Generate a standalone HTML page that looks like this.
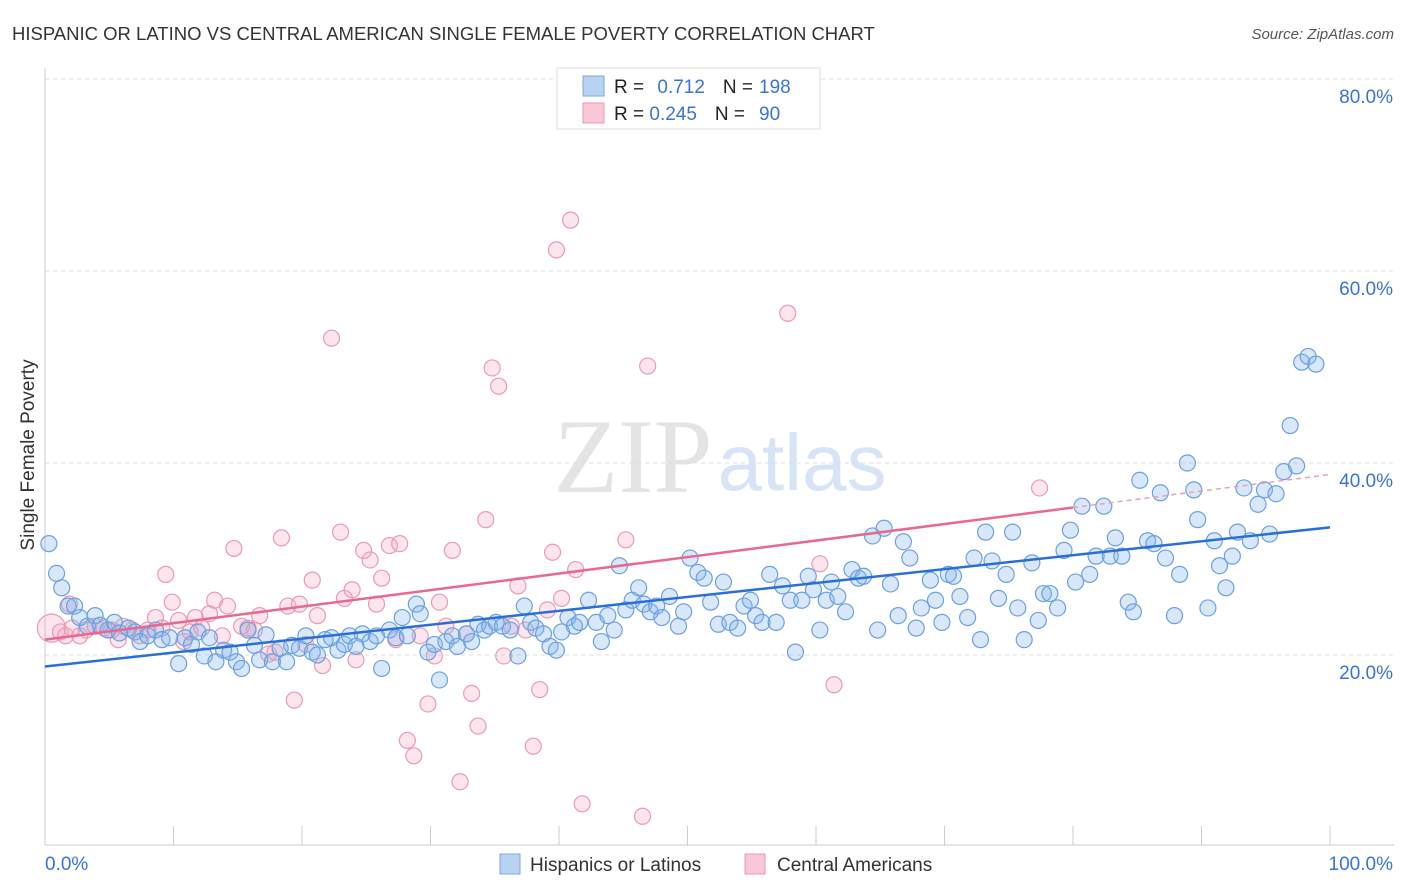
<!DOCTYPE html>
<html><head><meta charset="utf-8">
<style>
body{margin:0;background:#fff;font-family:"Liberation Sans",sans-serif;}
svg{display:block}
</style></head>
<body>
<svg id="chart" width="1406" height="892" xmlns="http://www.w3.org/2000/svg">
<text x="12" y="40" font-size="18.5" fill="#333">HISPANIC OR LATINO VS CENTRAL AMERICAN SINGLE FEMALE POVERTY CORRELATION CHART</text>
<text x="1394" y="39" font-size="15" fill="#555" font-style="italic" text-anchor="end">Source: ZipAtlas.com</text>
<text x="34" y="455" font-size="19" fill="#333" text-anchor="middle" transform="rotate(-90 34 455)">Single Female Poverty</text>
<g>
<text x="633" y="492" font-size="106" fill="#e4e4e4" font-family="Liberation Serif,serif" text-anchor="middle">ZIP</text>
<text x="802" y="490" font-size="80" fill="#d6e4f5" text-anchor="middle">atlas</text>
</g>
<g id="grid"></g>
<g id="axes"></g>
<g id="pinkpts"></g>
<g id="bluepts"></g>
<g id="lines"></g>
<g>
<rect x="557" y="68" width="263" height="61" fill="#fff" stroke="#ddd"/>
<rect x="583" y="76" width="21" height="20" fill="#b9d3f3" stroke="#7aa7e0"/>
<rect x="583" y="103" width="21" height="20" fill="#f9c7d6" stroke="#eb9ab4"/>
<text x="614" y="93" font-size="19" fill="#222">R = <tspan fill="#3a73d6" dx="8">0.712</tspan><tspan dx="18" fill="#222">N =</tspan><tspan dx="6" fill="#3a73d6">198</tspan></text>
<text x="614" y="120" font-size="19" fill="#222">R = <tspan fill="#3a73d6">0.245</tspan><tspan dx="18" fill="#222">N =</tspan><tspan dx="14" fill="#3a73d6">90</tspan></text>
</g>
<g>
<rect x="500" y="854" width="20" height="20" fill="#b9d3f3" stroke="#7aa7e0"/>
<text x="530" y="871" font-size="19" fill="#333">Hispanics or Latinos</text>
<rect x="745" y="854" width="20" height="20" fill="#f9c7d6" stroke="#eb9ab4"/>
<text x="777" y="871" font-size="19" fill="#333">Central Americans</text>
</g>
</svg>
<script>
const blueX=[0.3,0.9,1.3,1.8,2.3,2.7,3.3,3.9,4.3,4.9,5.4,5.8,6.5,7.0,7.4,8.0,8.6,9.1,9.7,10.4,10.9,11.4,11.9,12.4,12.8,13.3,13.9,14.4,14.9,15.3,15.8,16.3,16.7,17.2,17.7,18.3,18.8,19.2,19.8,20.3,20.8,21.2,21.8,22.3,22.8,23.3,23.7,24.2,24.7,25.3,25.8,26.2,26.8,27.3,27.8,28.2,28.9,29.2,29.8,30.3,30.7,31.2,31.7,32.1,32.8,33.2,33.7,34.2,34.6,35.1,35.6,36.2,36.8,37.3,37.8,38.2,38.8,39.3,39.8,40.2,40.7,41.2,41.6,42.3,42.9,43.3,43.8,44.3,44.7,45.2,45.7,46.2,46.6,47.1,47.6,48.0,48.6,49.3,49.7,50.2,50.8,51.3,51.8,52.4,52.8,53.3,53.9,54.4,54.9,55.3,55.8,56.4,56.9,57.4,58.0,58.4,58.9,59.4,59.8,60.3,60.8,61.2,61.7,62.3,62.8,63.3,63.7,64.4,64.8,65.3,65.8,66.4,66.8,67.3,67.8,68.2,68.9,69.3,69.8,70.3,70.7,71.2,71.8,72.3,72.8,73.2,73.7,74.2,74.8,75.3,75.7,76.2,76.8,77.3,77.7,78.2,78.8,79.3,79.8,80.2,80.7,81.3,81.8,82.4,82.9,83.3,83.8,84.3,84.7,85.2,85.8,86.3,86.8,87.2,87.9,88.3,88.9,89.4,89.7,90.5,91.0,91.4,91.9,92.4,92.8,93.3,93.8,94.4,94.9,95.3,95.8,96.4,96.9,97.4,97.8,98.3,98.9];
const blueY=[31.6,28.5,27.0,25.1,25.1,23.9,23.0,24.1,23.1,22.6,23.4,22.3,22.8,22.4,21.4,22.0,22.6,21.6,21.8,19.1,21.8,21.1,22.4,19.9,21.8,19.3,20.5,20.3,19.3,18.6,22.6,21.0,19.5,22.1,19.3,20.7,19.3,21.0,20.7,22.0,20.3,20.0,21.6,21.8,20.5,21.1,22.0,20.9,22.2,21.4,22.0,18.6,22.6,21.8,23.9,22.0,25.3,24.3,20.3,21.1,17.4,21.4,22.0,20.9,22.2,21.4,23.2,22.6,23.0,23.4,23.0,22.6,19.9,25.1,23.4,22.8,22.2,20.9,20.5,22.4,23.9,23.0,23.4,25.7,23.4,21.4,24.1,22.6,29.3,24.7,25.7,27.0,25.3,24.5,25.1,23.9,26.1,23.0,24.5,30.1,28.6,28.0,25.5,23.2,27.6,23.4,22.8,25.1,25.7,24.1,23.4,28.4,23.4,27.2,25.7,20.3,25.7,28.2,26.8,22.6,25.7,27.6,26.1,24.5,28.9,28.0,28.2,32.4,22.6,33.2,27.4,24.1,31.8,30.1,22.8,24.9,27.8,25.7,23.4,28.4,28.2,26.1,23.9,30.1,21.6,32.8,29.8,25.9,28.4,32.8,24.9,21.6,29.6,23.6,26.4,26.4,24.9,30.9,33.0,27.6,35.5,28.4,30.3,35.5,30.3,32.2,30.3,25.5,24.5,38.2,31.9,31.6,36.9,30.1,24.1,28.4,40.0,37.2,34.1,24.9,31.9,29.3,27.0,30.3,32.8,37.4,31.9,35.7,37.2,32.6,36.8,39.1,43.9,39.7,50.5,51.1,50.3];
const pinkX=[0.5,1.2,1.6,2.1,2.7,3.2,3.9,4.6,5.2,5.7,6.1,6.8,7.4,8.0,8.6,9.1,9.4,9.9,10.4,10.8,11.3,11.7,12.2,12.8,13.2,13.8,14.2,14.7,15.3,15.8,16.3,16.7,17.4,17.9,18.4,18.9,19.4,19.8,20.3,20.8,21.2,21.6,22.3,23.0,23.3,23.9,24.2,24.8,25.3,25.8,26.2,26.8,27.3,27.6,28.2,28.7,29.2,29.8,30.3,30.7,31.2,31.7,32.3,32.8,33.2,33.7,34.3,34.8,35.3,35.7,36.3,36.8,37.4,38.0,38.5,39.1,39.5,39.8,40.2,40.9,41.3,41.8,45.2,46.5,46.9,57.8,60.3,61.4,77.4,1.9];
const pinkY=[22.8,22.4,22.0,22.8,22.0,22.6,23.0,22.8,22.6,21.6,23.0,22.6,22.0,22.6,23.9,22.8,28.4,25.5,23.6,21.4,22.4,23.9,22.8,24.3,25.7,22.0,25.1,31.1,23.0,22.8,22.6,24.1,20.1,20.3,32.2,25.1,15.3,25.3,21.1,27.8,24.1,18.9,53.0,32.8,25.9,26.8,19.5,30.9,29.9,25.3,28.0,31.4,21.6,31.6,11.1,9.5,22.0,14.9,19.9,25.5,23.0,30.9,6.8,22.2,16.0,12.6,34.1,49.9,48.0,19.9,23.0,27.2,22.6,10.5,16.4,24.7,30.7,62.2,25.9,65.3,28.9,4.5,32.0,3.2,50.1,55.6,29.5,16.9,37.4,25.3];
const trendBlue=[18.8,33.3];   // value at x=0%, x=100%
const trendPink=[21.6,38.8];
const yTicks=[20,40,60,80];
const yTickLabels=["20.0%","40.0%","60.0%","80.0%"];
const xTicks=[0,10,20,30,40,50,60,70,80,90,100];

const NS="http://www.w3.org/2000/svg";
const sx=v=>45+v*12.85;
const sy=v=>847-v*9.6;
function mk(tag,attrs,parent){const e=document.createElementNS(NS,tag);for(const k in attrs)e.setAttribute(k,attrs[k]);parent.appendChild(e);return e;}
const grid=document.getElementById('grid'),axes=document.getElementById('axes');
yTicks.forEach((t,i)=>{
  const l=mk('line',{x1:45,x2:1394,y1:sy(t),y2:sy(t),stroke:'#ddd','stroke-dasharray':'4,4'},grid);
  
  
  const tx=mk('text',{x:1393,y:sy(t)+24,'font-size':19,fill:'#3a73d6','text-anchor':'end'},axes);
  tx.textContent=yTickLabels[i];
  
  
});
const ax=mk('line',{x1:45,x2:1394,y1:845,y2:845,stroke:'#ccc'},axes);


const ay=mk('line',{x1:45,x2:45,y1:68,y2:845,stroke:'#ccc'},axes);


xTicks.forEach(t=>{
  const l=mk('line',{x1:sx(t),x2:sx(t),y1:826,y2:845,stroke:'#ccc'},axes);
  
  
});
const x0=mk('text',{x:45,y:870,'font-size':19,fill:'#3a73d6'},axes);x0.textContent='0.0%';


const x1=mk('text',{x:1393,y:870,'font-size':19,fill:'#3a73d6','text-anchor':'end'},axes);x1.textContent='100.0%';



const pg=document.getElementById('pinkpts');
pinkX.forEach((x,i)=>{
  const c=mk('circle',{cx:sx(x),cy:sy(pinkY[i]),r:i===0?14:8,fill:'rgba(244,168,194,0.3)',stroke:'#eb9ab4','stroke-width':1.2},pg);
  
  
});
const bg=document.getElementById('bluepts');
blueX.forEach((x,i)=>{
  const c=mk('circle',{cx:sx(x),cy:sy(blueY[i]),r:8,fill:'rgba(130,178,235,0.3)',stroke:'#6aa0e0','stroke-width':1.2},bg);
  
  
});
const lg=document.getElementById('lines');
const pAt=v=>trendPink[0]+(trendPink[1]-trendPink[0])*v/100;
const bl=mk('line',{x1:sx(0),y1:sy(trendBlue[0]),x2:sx(100),y2:sy(trendBlue[1]),stroke:'#2a6fd6','stroke-width':2.5},lg);


const pl=mk('line',{x1:sx(0),y1:sy(pAt(0)),x2:sx(80),y2:sy(pAt(80)),stroke:'#e8688e','stroke-width':2.5},lg);


const pd=mk('line',{x1:sx(80),y1:sy(pAt(80)),x2:sx(100),y2:sy(pAt(100)),stroke:'#e8a0b8','stroke-width':1.5,'stroke-dasharray':'5,4'},lg);


</script>
</body></html>
